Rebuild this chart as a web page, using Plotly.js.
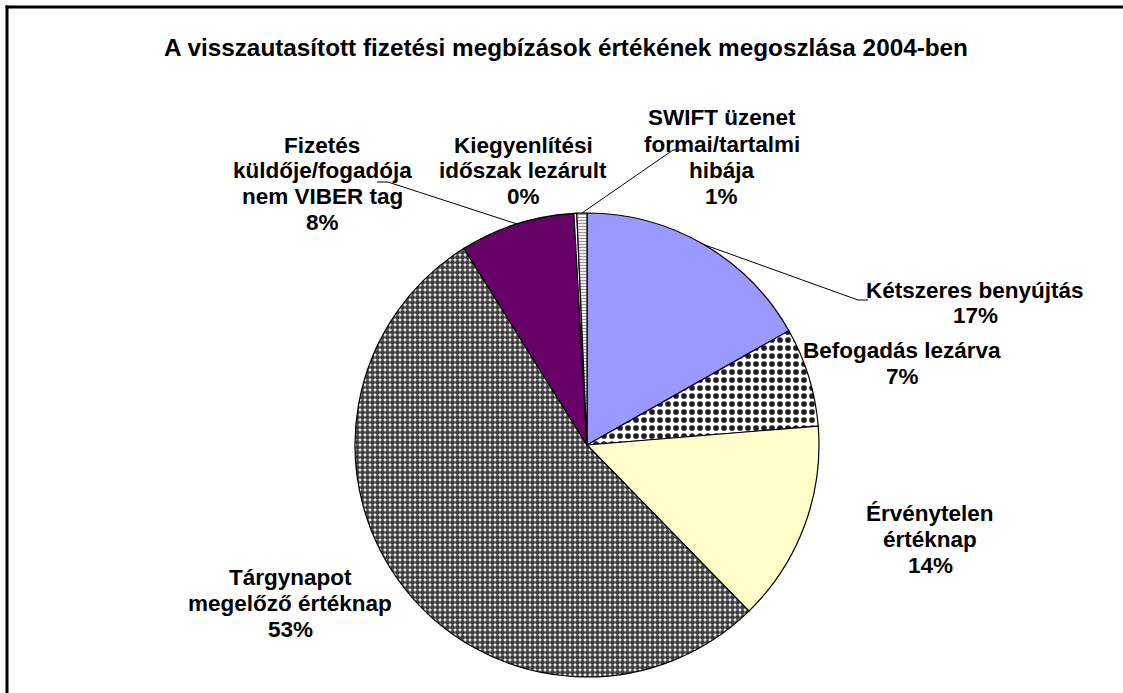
<!DOCTYPE html>
<html><head><meta charset="utf-8">
<script src="https://cdn.plot.ly/plotly-3.0.1.min.js"></script>
<style>html,body{margin:0;padding:0;background:#fff;overflow:hidden}</style>
</head><body><div id="chart" style="width:1123px;height:693px"></div>
<script>
// ---- data ----
const chartTitle = 'A visszautasított fizetési megbízások értékének megoszlása 2004-ben';
const categories = ['Kétszeres benyújtás', 'Befogadás lezárva', 'Érvénytelen értéknap',
  'Tárgynapot megelőző értéknap', 'Fizetés küldője/fogadója nem VIBER tag',
  'Kiegyenlítési időszak lezárult', 'SWIFT üzenet formai/tartalmi hibája'];
const labelLines = [
  ['Kétszeres benyújtás'],
  ['Befogadás lezárva'],
  ['Érvénytelen', 'értéknap'],
  ['Tárgynapot', 'megelőző értéknap'],
  ['Fizetés', 'küldője/fogadója', 'nem VIBER tag'],
  ['Kiegyenlítési', 'időszak lezárult'],
  ['SWIFT üzenet', 'formai/tartalmi', 'hibája']
];
const values = [16.8, 6.9, 14.0, 53.4, 8.0, 0.2, 0.7];

// ---- styling / layout (not data) ----
const W = 1123, H = 693;
const CX = 587, CY = 445, R = 232;
const colors = ['#9999FF', '#FFFFFF', '#FFFFCC', '#FFFFFF', '#660066', '#FFFFFF', '#FFFFFF'];
const patShape = ['', '.', '', '.', '', '', '-'];
const patFg = ['#000', '#1e1e1e', '#000', '#3c3c3c', '#000', '#000', '#999999'];
const patSize = [8, 8, 8, 5, 8, 8, 3];
const patSolid = [0.3, 0.4, 0.3, 0.75, 0.3, 0.3, 0.45];
const labelPos = [[975, 290], [902, 350], [930, 513], [290, 577], [322, 145], [523, 145], [722, 118]];
const leaderPts = {0: [[868, 300], [858, 300]], 4: [[377, 182], [388, 182]], 6: [[686, 150], [673, 150]]};
const LINE = 26;
const FONT = 'Liberation Sans, Arial, sans-serif';

const total = values.reduce((a, b) => a + b, 0);
const px = x => x / W, py = y => 1 - y / H;

const annotations = [];
const shapes = [];
let cum = 0;
values.forEach((v, i) => {
  const mid = (cum + v / 2) / total * 2 * Math.PI;
  cum += v;
  const lines = labelLines[i].concat([Math.round(v / total * 100) + '%']);
  lines.forEach((t, k) => {
    annotations.push({
      xref: 'paper', yref: 'paper', x: px(labelPos[i][0]), y: py(labelPos[i][1] + k * LINE),
      xanchor: 'center', yanchor: 'middle', showarrow: false, text: t,
      font: {family: FONT, size: 22.5, color: '#000', weight: 'bold'}
    });
  });
  if (leaderPts[i]) {
    const ax = CX + R * Math.sin(mid), ay = CY - R * Math.cos(mid);
    const p = leaderPts[i];
    shapes.push({
      type: 'path', xref: 'paper', yref: 'paper',
      path: `M ${px(p[0][0])} ${py(p[0][1])} L ${px(p[1][0])} ${py(p[1][1])} L ${px(ax)} ${py(ay)}`,
      line: {color: '#000', width: 1}
    });
  }
});
// chart frame (left and top edges; the rest lies outside the picture)
shapes.push({type: 'line', xref: 'paper', yref: 'paper', x0: px(7), y0: py(5.5), x1: px(7), y1: -0.02,
  line: {color: '#000', width: 3}});
shapes.push({type: 'line', xref: 'paper', yref: 'paper', x0: px(5.5), y0: py(7), x1: 1.02, y1: py(7),
  line: {color: '#000', width: 3}});

const trace = {
  type: 'pie', labels: categories, values: values, sort: false, direction: 'clockwise', rotation: 0,
  textinfo: 'none', hoverinfo: 'label+percent', showlegend: false,
  domain: {x: [px(CX - R), px(CX + R)], y: [py(CY + R), py(CY - R)]},
  marker: {colors: colors,
    pattern: {shape: patShape, fgcolor: patFg, bgcolor: colors, size: patSize, solidity: patSolid, fillmode: 'replace'},
    line: {color: '#000', width: 1.2}}
};

const layout = {
  width: W, height: H, margin: {l: 0, r: 0, t: 0, b: 0},
  paper_bgcolor: '#fff', plot_bgcolor: '#fff', showlegend: false,
  title: {text: chartTitle, x: px(566), xanchor: 'center', y: py(47), yanchor: 'middle',
    xref: 'paper', yref: 'paper', font: {family: FONT, size: 24.3, color: '#000', weight: 'bold'}},
  annotations: annotations, shapes: shapes
};

Plotly.newPlot('chart', [trace], layout, {displayModeBar: false, staticPlot: true});
</script></body></html>
